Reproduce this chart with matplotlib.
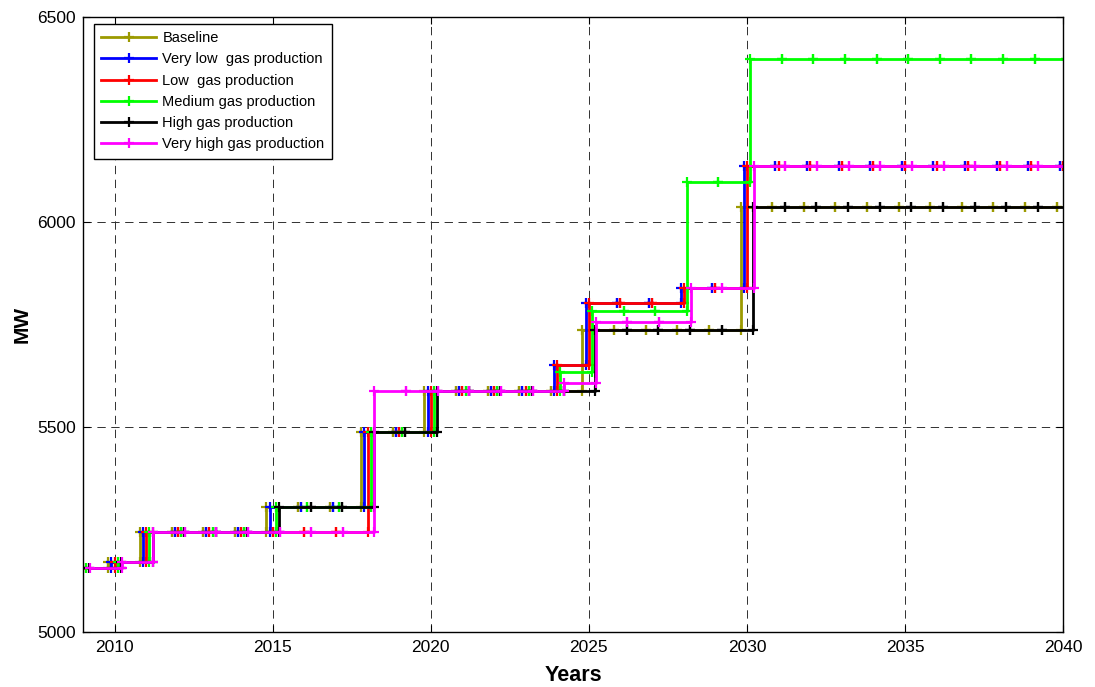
import matplotlib
matplotlib.use("Agg")
import matplotlib.pyplot as plt
import numpy as np

plt.rcParams["font.family"] = ["Liberation Sans", "DejaVu Sans"]
plt.rcParams["lines.scale_dashes"] = False

# Data (MW per year)
years = np.arange(2009, 2041)
baseline = [5155, 5170, 5245, 5245, 5245, 5245, 5305, 5305, 5305, 5487, 5487,
            5587, 5587, 5587, 5587, 5587, 5737, 5737, 5737, 5737, 5737,
            6037, 6037, 6037, 6037, 6037, 6037, 6037, 6037, 6037, 6037, 6037]
very_low = [5155, 5170, 5245, 5245, 5245, 5245, 5305, 5305, 5305, 5487, 5487,
            5587, 5587, 5587, 5587, 5651, 5802, 5802, 5802, 5838, 5838,
            6137, 6137, 6137, 6137, 6137, 6137, 6137, 6137, 6137, 6137, 6137]
low = [5155, 5170, 5245, 5245, 5245, 5245, 5245, 5245, 5245, 5487, 5487,
       5587, 5587, 5587, 5587, 5651, 5802, 5802, 5802, 5838, 5838,
       6137, 6137, 6137, 6137, 6137, 6137, 6137, 6137, 6137, 6137, 6137]
medium = [5155, 5170, 5245, 5245, 5245, 5245, 5305, 5305, 5305, 5487, 5487,
          5587, 5587, 5587, 5587, 5633, 5783, 5783, 5783, 6098, 6098,
          6397, 6397, 6397, 6397, 6397, 6397, 6397, 6397, 6397, 6397, 6397]
high = [5155, 5170, 5245, 5245, 5245, 5245, 5305, 5305, 5305, 5487, 5487,
        5587, 5587, 5587, 5587, 5587, 5737, 5737, 5737, 5737, 5737,
        6037, 6037, 6037, 6037, 6037, 6037, 6037, 6037, 6037, 6037, 6037]
very_high = [5155, 5170, 5245, 5245, 5245, 5245, 5245, 5245, 5245, 5587, 5587,
             5587, 5587, 5587, 5587, 5607, 5757, 5757, 5757, 5838, 5838,
             6137, 6137, 6137, 6137, 6137, 6137, 6137, 6137, 6137, 6137, 6137]

labels = ["Baseline", "Very low  gas production", "Low  gas production",
          "Medium gas production", "High gas production", "Very high gas production"]
series = [baseline, very_low, low, medium, high, very_high]
colors = ["#9c9a00", "#0000ff", "#ff0000", "#00ff00", "#000000", "#ff00ff"]
shifts = [-0.2, -0.1, 0.0, 0.1, 0.2, 0.22]  # small x offsets so the steps don't overlap

fig = plt.figure(figsize=(10.95, 6.87), dpi=100)
ax = fig.add_axes([0.0758, 0.080, 0.8950, 0.8953])

for vals, lab, col, dx in zip(series, labels, colors, shifts):
    x = years + dx
    y = np.asarray(vals, dtype=float)
    # stairs with a marker on every corner, like MATLAB's stairs()
    xs = np.repeat(x, 2)[1:]
    ys = np.repeat(y, 2)[:-1]
    ax.plot(xs, ys, color=col, lw=2, marker="+", ms=7, mew=1.6, label=lab)

ax.set_xlim(2009, 2040)
ax.set_ylim(5000, 6500)
ax.set_xticks(np.arange(2010, 2041, 5))
ax.set_yticks([5000, 5500, 6000, 6500])
ax.grid(True, color="#303030", lw=0.7, linestyle=(0, (6, 4)))
ax.tick_params(direction="in", top=True, right=True, length=5, labelsize=12.5)
ax.tick_params(axis="x", pad=6)
ax.tick_params(axis="y", pad=5)
for s in ax.spines.values():
    s.set_linewidth(1.0)

ax.set_xlabel("Years", fontsize=15.5, fontweight="bold", labelpad=7)
ax.set_ylabel("MW", fontsize=15, fontweight="bold", labelpad=4)

leg = ax.legend(loc="upper left", bbox_to_anchor=(0.011, 0.989), borderaxespad=0,
                fontsize=10.5, numpoints=1, fancybox=False, framealpha=1,
                edgecolor="black", handlelength=3.8, handletextpad=0.4,
                labelspacing=0.5, borderpad=0.5)
leg.get_frame().set_linewidth(1.0)

fig.savefig("out.png", dpi=100)
